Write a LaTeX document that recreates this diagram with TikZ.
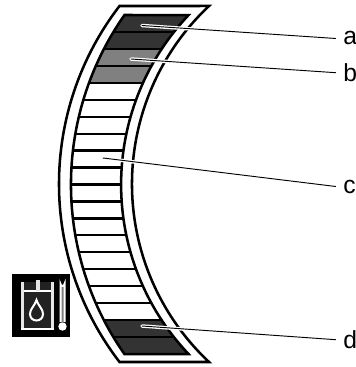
\documentclass[tikz,border=0pt]{standalone}
\usepackage{fontspec}
\setmainfont{Liberation Sans}
\definecolor{darkcell}{RGB}{51, 51, 51}
\definecolor{greycell}{RGB}{128, 128, 128}
\definecolor{icondark}{RGB}{34, 34, 34}
\begin{document}
\begin{tikzpicture}[
  x=0.75pt, y=-0.75pt,
  frame/.style  = {draw=black, line width=1.9pt, miter limit=10},
  sep/.style    = {draw=black, line width=1.7pt},
  halo/.style   = {draw=white, line width=2.6pt, line cap=round},
  leader/.style = {draw=black, line width=0.7pt, line cap=round},
  lbl/.style    = {font=\fontsize{18.5}{20}\selectfont, inner sep=0pt, anchor=base west},
  icon/.style   = {draw=white, line width=1.5pt},
  wall/.style   = {draw=white!90!black, line width=2.4pt}
]
  \useasboundingbox (0,0) rectangle (355,367);

  % ---- Outer frame ----
  \draw[frame] (119.5,6) arc[radius=292, start angle=217.56, end angle=142.44]
    -- (209,362) arc[radius=244.2, start angle=133.2, end angle=226.8] -- cycle;

  % ---- Scale cells ----
  \begin{scope}
    \clip (124.5,15) arc[radius=295.3, start angle=215.05, end angle=144.95]
      -- (188.5,354) arc[radius=246.6, start angle=136.6, end angle=223.4] -- cycle;
    \fill[white] (40,15) rectangle (200,354);
    \fill[darkcell] (40,15) rectangle (200,49.9);
    \fill[greycell] (40,49.9) rectangle (200,83.8);
    \fill[darkcell] (40,319) rectangle (200,354);
    \foreach \row in {1,...,19}
      \draw[sep] (40,15+16.95*\row) -- (200,15+16.95*\row);
  \end{scope}
  \draw[frame] (124.5,15) arc[radius=295.3, start angle=215.05, end angle=144.95]
    -- (188.5,354) arc[radius=246.6, start angle=136.6, end angle=223.4] -- cycle;

  % ---- Labels ----
  \node[lbl] (a) at (343,45)  {a};
  \node[lbl] (b) at (343,81.5)  {b};
  \node[lbl] (c) at (343,193) {c};
  \node[lbl] (d) at (343,348.5) {d};

  \coordinate (aend) at (142,25.5);
  \coordinate (bend) at (131,59);
  \coordinate (cend) at (103,158);
  \coordinate (dend) at (142,326);

  % ---- Leaders ----
  \foreach \from/\to in {aend/a, bend/b, cend/c, dend/d} {
    \draw[halo] (\from) -- ([xshift=-12pt]\to.west);
    \draw[leader] (\from) -- ([xshift=-5.5pt]\to.west);
  }

  % ---- Icon ----
  \fill[black] (12,274) rectangle (70,337);
  \fill[icondark] (23,282) rectangle (52,329);
  \draw[wall] (22.5,282) -- (22.5,329);
  \draw[wall] (52.5,329) -- (52.5,282);
  \draw[icon] (21,328.5) -- (54,328.5);
  \draw[icon] (24,290.5) -- (51,290.5);
  \draw[wall] (38,280) -- (38,290.5);
  \draw[icon] (36.5,300) .. controls (34,307) and (30,309) .. (30,314)
    .. controls (30,318) and (33,320.5) .. (36.5,320.5)
    .. controls (40,320.5) and (43,318) .. (43,314)
    .. controls (43,309) and (39,307) .. (36.5,300) -- cycle;
  \draw[icon, fill=greycell] (60.5,322) -- (60.5,284) arc[start angle=180, end angle=0, radius=2] -- (64.5,322);
  \fill[white] (62.5,326.5) circle[radius=4.2];
\end{tikzpicture}
\end{document}
